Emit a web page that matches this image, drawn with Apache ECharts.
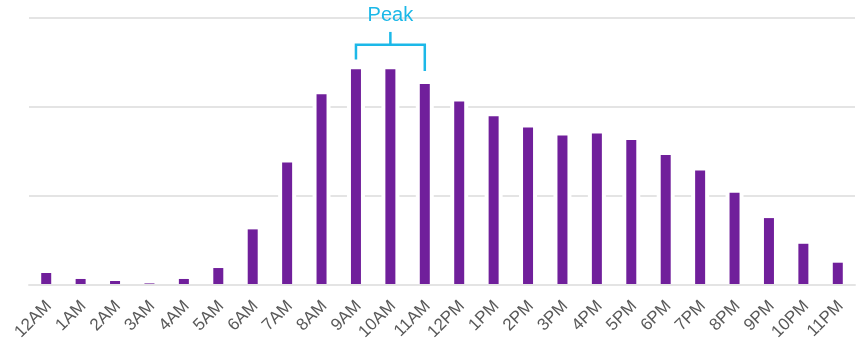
<!DOCTYPE html>
<html>
<head>
<meta charset="utf-8">
<script src="https://cdn.jsdelivr.net/npm/echarts@6/dist/echarts.min.js"></script>
<style>
  html, body { margin: 0; padding: 0; background: #ffffff; }
  #chart { width: 856px; height: 345px; }
</style>
</head>
<body>
<div id="chart"></div>
<script>
// Hour-of-day categories
const hours = ['12AM', '1AM', '2AM', '3AM', '4AM', '5AM', '6AM', '7AM', '8AM', '9AM', '10AM', '11AM',
               '12PM', '1PM', '2PM', '3PM', '4PM', '5PM', '6PM', '7PM', '8PM', '9PM', '10PM', '11PM'];

// Relative activity per hour
const activity = [0.127, 0.06, 0.037, 0.01, 0.06, 0.183, 0.618, 1.371, 2.138, 2.419, 2.419, 2.254,
                  2.056, 1.891, 1.764, 1.674, 1.697, 1.625, 1.456, 1.281, 1.029, 0.745, 0.456, 0.243];

// Value-axis gridline positions
const yTicks = [0, 1, 2, 3];

// Peak bracket annotation: span of hours and levels (in value units)
const peakHours = ['9AM', '11AM'];
const peakText = 'Peak';
const bracketLevel = 2.697;
const bracketLeftEnd = 2.53;
const bracketRightEnd = 2.40;
const bracketStemTop = 2.84;

const purple = '#701f9b';
const cyan = '#1cb8e8';
const gridGray = '#e4e4e4';

const chart = echarts.init(document.getElementById('chart'), null, { renderer: 'canvas' });

chart.setOption({
  animation: false,
  backgroundColor: '#ffffff',
  grid: { left: 29, right: 1, top: 17.7, bottom: 60.7, outerBoundsMode: 'none' },
  xAxis: [
    {
      type: 'category',
      data: hours,
      z: 5,
      axisLine: { show: true, lineStyle: { color: gridGray, width: 2 } },
      axisTick: { show: false },
      axisLabel: {
        interval: 0,
        rotate: 45,
        margin: 22,
        fontSize: 17,
        color: '#595959',
        fontFamily: 'Liberation Sans, Arial, sans-serif',
        padding: [0, -4, 0, 0]
      }
    },
    {
      type: 'category',
      data: hours,
      show: false
    }
  ],
  yAxis: {
    type: 'value',
    min: yTicks[0],
    max: yTicks[yTicks.length - 1],
    interval: yTicks[1] - yTicks[0],
    axisLabel: { show: false },
    axisLine: { show: false },
    axisTick: { show: false },
    splitLine: { show: true, lineStyle: { color: gridGray, width: 2 } }
  },
  series: [
    {
      // white halo that clears the gridlines beside each bar
      type: 'bar',
      xAxisIndex: 0,
      data: activity,
      barWidth: 18,
      silent: true,
      z: 2,
      itemStyle: { color: '#ffffff' }
    },
    {
      type: 'bar',
      xAxisIndex: 1,
      data: activity,
      barWidth: 10,
      z: 3,
      itemStyle: { color: purple }
    }
  ]
});

// Bracket over the peak hours, placed through the axes
const toPx = (cat, val) => chart.convertToPixel({ xAxisIndex: 0, yAxisIndex: 0 }, [cat, val]);
const pL = toPx(peakHours[0], bracketLevel);
const pR = toPx(peakHours[1], bracketLevel);
const yL = toPx(peakHours[0], bracketLeftEnd)[1];
const yR = toPx(peakHours[1], bracketRightEnd)[1];
const cx = (pL[0] + pR[0]) / 2;
const yStem = toPx(peakHours[0], bracketStemTop)[1];

chart.setOption({
  graphic: [
    {
      type: 'polyline',
      z: 10,
      shape: { points: [[pL[0], yL], [pL[0], pL[1]], [pR[0], pR[1]], [pR[0], yR]] },
      style: { stroke: cyan, lineWidth: 2.5, fill: null }
    },
    {
      type: 'line',
      z: 10,
      shape: { x1: cx, y1: pL[1], x2: cx, y2: yStem },
      style: { stroke: cyan, lineWidth: 2.5 }
    },
    {
      type: 'text',
      z: 10,
      x: cx,
      y: yStem - 6,
      style: {
        text: peakText,
        fill: cyan,
        font: '20px "Liberation Sans", Arial, sans-serif',
        align: 'center',
        verticalAlign: 'bottom'
      }
    }
  ]
});
</script>
</body>
</html>
